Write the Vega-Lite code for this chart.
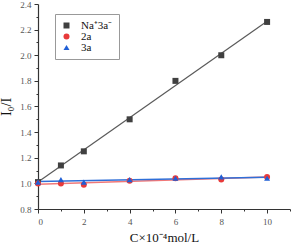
{
  "$schema": "https://vega.github.io/schema/vega-lite/v6.json",
  "width": 252,
  "height": 205,
  "autosize": "none",
  "padding": {"left": 38, "top": 4, "right": 4, "bottom": 35},
  "config": {"view": {"stroke": null}, "font": "Liberation Serif"},
  "data": {"values": [
    {"s": "Na⁺3a⁻", "x": 0, "y": 1.01},
    {"s": "Na⁺3a⁻", "x": 1, "y": 1.14},
    {"s": "Na⁺3a⁻", "x": 2, "y": 1.25},
    {"s": "Na⁺3a⁻", "x": 4, "y": 1.50},
    {"s": "Na⁺3a⁻", "x": 6, "y": 1.80},
    {"s": "Na⁺3a⁻", "x": 8, "y": 2.00},
    {"s": "Na⁺3a⁻", "x": 10, "y": 2.26},
    {"s": "2a", "x": 0, "y": 1.00},
    {"s": "2a", "x": 1, "y": 1.00},
    {"s": "2a", "x": 2, "y": 0.99},
    {"s": "2a", "x": 4, "y": 1.02},
    {"s": "2a", "x": 6, "y": 1.04},
    {"s": "2a", "x": 8, "y": 1.03},
    {"s": "2a", "x": 10, "y": 1.05},
    {"s": "3a", "x": 0, "y": 1.01},
    {"s": "3a", "x": 1, "y": 1.03},
    {"s": "3a", "x": 2, "y": 1.01},
    {"s": "3a", "x": 4, "y": 1.03},
    {"s": "3a", "x": 6, "y": 1.04},
    {"s": "3a", "x": 8, "y": 1.05},
    {"s": "3a", "x": 10, "y": 1.04}
  ]},
  "encoding": {
    "x": {
      "field": "x", "type": "quantitative",
      "scale": {"domain": [0, 11], "nice": false, "zero": false},
      "axis": {
        "title": "C×10⁻⁴mol/L",
        "titleFont": "Liberation Serif", "titleFontSize": 13, "titleFontWeight": "normal", "titleColor": "#111",
        "titlePadding": 5,
        "values": [0, 1, 2, 3, 4, 5, 6, 7, 8, 9, 10, 11],
        "labelExpr": "datum.value % 2 === 0 ? datum.label : ''",
        "labelOverlap": false,
        "labelFont": "Liberation Serif", "labelFontSize": 9, "labelColor": "#555",
        "grid": false, "domainColor": "#333", "domainWidth": 1.2,
        "tickColor": "#333",
        "tickSize": {"condition": {"test": "datum.value % 2 === 0", "value": 4}, "value": 2},
        "labelPadding": 4
      }
    },
    "y": {
      "field": "y", "type": "quantitative",
      "scale": {"domain": [0.8, 2.4], "nice": false, "zero": false},
      "axis": {
        "title": "I₀/I",
        "titleFont": "Liberation Serif", "titleFontSize": 14, "titleFontWeight": "normal", "titleColor": "#111",
        "titlePadding": 6,
        "values": [0.8, 0.9, 1.0, 1.1, 1.2, 1.3, 1.4, 1.5, 1.6, 1.7, 1.8, 1.9, 2.0, 2.1, 2.2, 2.3, 2.4],
        "labelExpr": "round(datum.value * 10) % 2 === 0 ? format(datum.value, '.1f') : ''",
        "labelOverlap": false,
        "labelFont": "Liberation Serif", "labelFontSize": 9, "labelColor": "#555",
        "grid": false, "domainColor": "#333", "domainWidth": 1.2,
        "tickColor": "#333",
        "tickSize": {"condition": {"test": "round(datum.value * 10) % 2 === 0", "value": 4}, "value": 2},
        "labelPadding": 3
      }
    }
  },
  "layer": [
    {
      "transform": [{"filter": "datum.s === 'Na⁺3a⁻'"}, {"regression": "y", "on": "x", "extent": [0, 10]}],
      "mark": {"type": "line", "strokeWidth": 1.2, "color": "#5a5a5a"}
    },
    {
      "transform": [{"filter": "datum.s === '2a'"}, {"regression": "y", "on": "x", "extent": [0, 10]}],
      "mark": {"type": "line", "strokeWidth": 1.5, "color": "#f07878"}
    },
    {
      "transform": [{"filter": "datum.s === '3a'"}, {"regression": "y", "on": "x", "extent": [0, 10]}],
      "mark": {"type": "line", "strokeWidth": 1.5, "color": "#2f6fd8"}
    },
    {
      "mark": {"type": "point", "filled": true, "size": 36, "opacity": 1},
      "encoding": {
        "color": {
          "field": "s", "type": "nominal",
          "scale": {"domain": ["Na⁺3a⁻", "2a", "3a"], "range": ["#404040", "#e83a3a", "#1f5fd6"]},
          "legend": {
            "title": null, "orient": "none", "legendX": 17, "legendY": 10,
            "strokeColor": "#999", "padding": 6, "labelFont": "Liberation Serif", "labelFontSize": 11, "labelColor": "#111",
            "symbolSize": 36, "rowPadding": -2, "labelOffset": 9
          }
        },
        "shape": {
          "field": "s", "type": "nominal",
          "scale": {"domain": ["Na⁺3a⁻", "2a", "3a"], "range": ["square", "circle", "triangle-up"]},
          "legend": {
            "title": null, "orient": "none", "legendX": 17, "legendY": 10,
            "strokeColor": "#999", "padding": 6, "labelFont": "Liberation Serif", "labelFontSize": 11, "labelColor": "#111",
            "symbolSize": 36, "rowPadding": -2, "labelOffset": 9
          }
        }
      }
    }
  ]
}
